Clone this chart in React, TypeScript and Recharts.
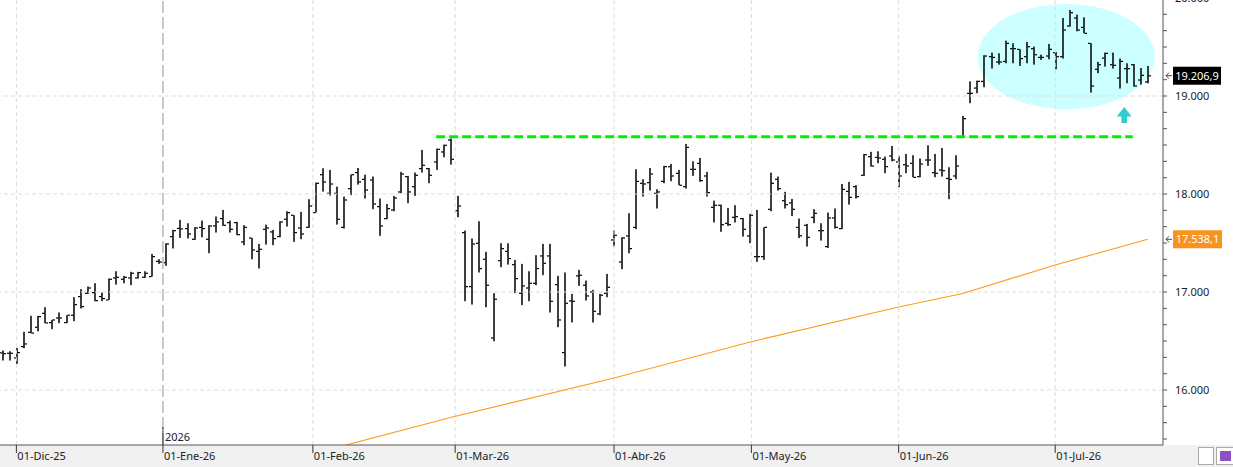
import React from "react";
import {
	ComposedChart,
	Bar,
	Line,
	XAxis,
	YAxis,
	ReferenceLine,
	ReferenceArea,
	ReferenceDot,
} from "recharts";

// Daily OHLC bars (index 0 = 27-Nov-25, last = mid Jul-26)
const opens = [
	16380, 16376, 16328, 16444, 16590, 16641, 16784, 16689, 16736, 16689, 16764, 16954, 16988, 16995, 16954, 16920,
	17144, 17131, 17144, 17144, 17151, 17158, 17314, 17301, 17566, 17650, 17648, 17539, 17660, 17539, 17675, 17750,
	17709, 17709, 17512, 17552, 17416, 17641, 17614, 17566, 17743, 17784, 17654, 17661, 17811, 18198, 18008, 18008,
	17661, 18056, 18219, 18151, 18144, 17872, 17750, 17838, 18022, 18178, 18076, 18260, 18260, 18328, 18430, 18552,
	17831, 17607, 17056, 17498, 17335, 16532, 17321, 17416, 17280, 16988, 17042, 17090, 17369, 17369, 17076, 16383,
	16910, 17165, 17070, 17002, 16777, 16988, 17532, 17308, 17573, 17661, 18110, 18117, 18008, 18130, 18280, 18212,
	18076, 18253, 18314, 18185, 17865, 17886, 17702, 17763, 17750, 17573, 17362, 17362, 17845, 18151, 17933, 17910,
	17660, 17682, 17763, 17627, 17464, 17756, 17648, 18028, 18076, 18192, 18382, 18375, 18355, 18389, 18328, 18300,
	18314, 18178, 18348, 18219, 18246, 18160, 18185, 18586, 19028, 19082, 19150, 19402, 19348, 19354, 19484, 19477,
	19402, 19484, 19395, 19409, 19443, 19402, 19715, 19796, 19701, 19538, 19273, 19388, 19320, 19184, 19280, 19320,
	19164, 19144,
];
const highs = [
	16403, 16396, 16430, 16594, 16757, 16757, 16845, 16716, 16791, 16764, 16947, 17029, 17056, 17090, 16995, 17138,
	17212, 17165, 17206, 17206, 17212, 17389, 17335, 17498, 17634, 17736, 17702, 17661, 17729, 17682, 17770, 17838,
	17729, 17716, 17682, 17552, 17491, 17688, 17634, 17722, 17824, 17784, 17818, 17947, 18117, 18263, 18246, 18076,
	17974, 18198, 18266, 18198, 18178, 17954, 17899, 17981, 18226, 18185, 18219, 18450, 18266, 18464, 18504, 18566,
	17981, 17627, 17546, 17722, 17410, 16988, 17498, 17498, 17328, 17287, 17212, 17376, 17491, 17491, 17165, 17199,
	16981, 17226, 17117, 17022, 16981, 17185, 17627, 17559, 17804, 18253, 18151, 18266, 18049, 18287, 18307, 18246,
	18511, 18334, 18368, 18226, 17933, 17892, 17858, 17886, 17756, 17797, 17838, 17661, 18219, 18178, 18022, 17950,
	17750, 17695, 17845, 17702, 17811, 17852, 18103, 18124, 18090, 18409, 18430, 18436, 18382, 18491, 18389, 18409,
	18396, 18362, 18498, 18409, 18470, 18273, 18396, 18797, 19150, 19157, 19416, 19443, 19436, 19565, 19538, 19477,
	19552, 19504, 19422, 19531, 19450, 19796, 19878, 19830, 19803, 19538, 19348, 19443, 19443, 19382, 19334, 19327,
	19286, 19307,
];
const lows = [
	16301, 16301, 16267, 16427, 16580, 16600, 16682, 16621, 16682, 16682, 16702, 16832, 16981, 16906, 16906, 16920,
	17076, 17090, 17070, 17138, 17144, 17158, 17287, 17267, 17444, 17552, 17546, 17532, 17559, 17396, 17607, 17675,
	17607, 17580, 17478, 17335, 17240, 17484, 17478, 17559, 17668, 17512, 17539, 17654, 17811, 18025, 17985, 17688,
	17648, 17988, 18096, 17954, 17845, 17573, 17743, 17824, 18008, 17906, 17981, 18219, 18110, 18246, 18375, 18300,
	17763, 16906, 16872, 17199, 16845, 16498, 17253, 17280, 16988, 16866, 16906, 17070, 17172, 16791, 16641, 16240,
	16689, 17063, 16913, 16689, 16764, 16947, 17464, 17233, 17396, 17641, 17974, 18035, 17852, 18110, 18130, 18090,
	18056, 18185, 18124, 17974, 17709, 17614, 17675, 17709, 17566, 17498, 17308, 17328, 17824, 18035, 17852, 17775,
	17550, 17464, 17702, 17525, 17450, 17648, 17641, 17892, 17954, 18185, 18280, 18314, 18212, 18334, 18069, 18212,
	18171, 18171, 18287, 18171, 18178, 17947, 18151, 18579, 18926, 19028, 19089, 19280, 19320, 19334, 19334, 19307,
	19334, 19320, 19368, 19375, 19273, 19382, 19708, 19660, 19640, 19035, 19232, 19300, 19280, 19076, 19130, 19096,
	19116, 19130,
];
const closes = [
	16372, 16376, 16383, 16471, 16582, 16750, 16685, 16716, 16736, 16764, 16872, 16852, 17042, 16913, 16934, 17131,
	17151, 17151, 17192, 17199, 17192, 17362, 17307, 17491, 17627, 17645, 17593, 17654, 17648, 17675, 17716, 17682,
	17641, 17586, 17661, 17430, 17437, 17654, 17546, 17716, 17811, 17607, 17593, 17879, 18110, 18124, 18103, 17743,
	17940, 18198, 18124, 18042, 17899, 17675, 17852, 17960, 18205, 18022, 18192, 18294, 18192, 18457, 18498, 18355,
	17879, 17056, 17491, 17240, 17070, 16927, 17444, 17342, 17138, 17063, 17090, 17240, 17294, 16906, 16716, 16886,
	16906, 17172, 16961, 16804, 16968, 17049, 17580, 17552, 17444, 18130, 18103, 18205, 18022, 18280, 18185, 18090,
	18477, 18253, 18137, 18015, 17886, 17688, 17688, 17770, 17641, 17784, 17362, 17661, 18110, 18056, 17892, 17845,
	17575, 17559, 17804, 17627, 17756, 17661, 18049, 17967, 17974, 18402, 18287, 18368, 18280, 18348, 18185, 18287,
	18171, 18307, 18348, 18212, 18239, 18150, 18287, 18770, 19028, 19150, 19409, 19395, 19348, 19538, 19484, 19382,
	19504, 19422, 19395, 19477, 19402, 19674, 19851, 19674, 19640, 19103, 19320, 19436, 19314, 19354, 19280, 19103,
	19212, 19206.9,
];

// Moving average readings (bar index -> value)
const maIndex = [47, 63, 86, 105, 126, 135, 148, 156, 161];
const maValues = [15413, 15720, 16123, 16488, 16847, 16985, 17276, 17437, 17538.1];

// Month ticks (bar index position) and labels
const monthTicks = [2, 22.6, 43.67, 63.67, 86, 105.3, 126, 148];
const monthLabels = ["01-Dic-25", "01-Ene-26", "01-Feb-26", "01-Mar-26", "01-Abr-26", "01-May-26", "01-Jun-26", "01-Jul-26"];
const yearTick = 22.6;

const yMajor = [16000, 17000, 18000, 19000, 20000];
const resistance = 18583;
const lastClose = 19206.9;
const lastMa = 17538.1;

const XMIN = -0.3;
const XMAX = 163.15;
const YMIN = 15439;
const YMAX = 20000;
const FONT = "'Noto Sans', 'Open Sans', sans-serif";

const maByIndex: Record<number, number> = {};
maIndex.forEach((idx, k) => {
	maByIndex[idx] = maValues[k];
});

const data = opens.map((o, i) => ({
	i,
	open: o,
	high: highs[i],
	low: lows[i],
	close: closes[i],
	range: [lows[i], highs[i]],
	ma: maByIndex[i],
}));

// minor ticks every 1000/6
const yTicks: number[] = [];
for (let v = 15500; v <= 20000.01; v += 1000 / 6) yTicks.push(v);

const fmtInt = (v: number) => {
	const r = Math.round(v);
	return `${Math.floor(r / 1000)}.${String(r % 1000).padStart(3, "0")}`;
};
const fmtDec = (v: number) => {
	const [a, b] = v.toFixed(1).split(".");
	return a.replace(/\B(?=(\d{3})+(?!\d))/g, ".") + "," + b;
};

// OHLC bar: vertical high-low with open tick left, close tick right
const OhlcBar = (props: any) => {
	const { x, y, width, height, payload } = props;
	if (!payload) return null;
	const { open, high, low, close } = payload;
	const span = high - low || 1;
	const yOf = (v: number) => y + ((high - v) / span) * height;
	const cx = Math.round(x + width / 2);
	return (
		<g>
			<rect x={cx - 0.75} y={y} width={1.5} height={Math.max(height, 1)} fill="#000" />
			<rect x={cx - 3} y={yOf(open) - 0.5} width={2.5} height={1.2} fill="#000" />
			<rect x={cx + 0.5} y={yOf(close) - 0.5} width={2.5} height={1.2} fill="#000" />
		</g>
	);
};

const YTick = (props: any) => {
	const { x, y, payload } = props;
	const v = payload.value;
	const isMajor = yMajor.some((m) => Math.abs(m - v) < 1);
	if (!isMajor) return null;
	return (
		<text x={x} y={y} dy={4} textAnchor="start" fontSize={11} fill="#222" fontFamily={FONT}>
			{fmtInt(v)}
		</text>
	);
};

const XTick = (props: any) => {
	const { x, y, payload } = props;
	const k = monthTicks.indexOf(payload.value);
	const label = monthLabels[k] ?? "";
	return (
		<g>
			{payload.value === yearTick && (
				<>
					<line x1={x} x2={x} y1={y - 26} y2={y - 8} stroke="#333" strokeWidth={1} />
					<text x={x + 2} y={y - 12} fontSize={11} fill="#222" fontFamily={FONT}>
						2026
					</text>
				</>
			)}
			<text x={x + 1} y={y + 7} fontSize={11} fill="#222" fontFamily={FONT}>
				{label}
			</text>
		</g>
	);
};

// price badge drawn on the right axis
const makeBadge = (text: string, bg: string, w: number) => (p: any) => {
	const { cx, cy } = p;
	return (
		<g>
			<path d={`M${cx + 3} ${cy} L${cx + 9} ${cy} M${cx + 3} ${cy} L${cx + 6} ${cy - 3} M${cx + 3} ${cy} L${cx + 6} ${cy + 3}`} stroke="#444" strokeWidth={1} fill="none" />
			<rect x={cx + 10} y={cy - 9} width={w} height={18} fill={bg} />
			<text x={cx + 10 + w / 2} y={cy + 4} textAnchor="middle" fontSize={11} fill="#fff" fontFamily={FONT}>
				{text}
			</text>
		</g>
	);
};

const EllipseShape = (p: any) => {
	const { x, y, width, height } = p;
	return <ellipse cx={x + width / 2} cy={y + height / 2} rx={width / 2} ry={height / 2} fill="#ccffff" />;
};

const ArrowUp = (p: any) => {
	const { cx, cy } = p;
	return (
		<path
			d={`M${cx} ${cy - 8} L${cx + 7.5} ${cy + 1.5} L${cx + 2.8} ${cy + 1.5} L${cx + 2.8} ${cy + 8} L${cx - 2.8} ${cy + 8} L${cx - 2.8} ${cy + 1.5} L${cx - 7.5} ${cy + 1.5} Z`}
			fill="#33cccc"
		/>
	);
};

export default function App() {
	return (
		<div style={{ position: "absolute", left: 0, top: -2, width: 1233, height: 469, background: "#fff" }}>
			<div style={{ position: "absolute", left: 0, top: 447, width: 1233, height: 22, background: "#f0f0f0" }} />
			<div style={{ position: "absolute", left: 1198, top: 449, width: 14, height: 16, border: "1px solid #aaa", background: "#fff" }} />
			<div style={{ position: "absolute", left: 1216, top: 449, width: 17, height: 16, border: "1px solid #aaa", background: "#fff" }}>
				<div style={{ margin: "3px 3px", width: 11, height: 10, background: "#8e4fc4" }} />
			</div>
			<div style={{ position: "absolute", left: 0, top: 0 }}>
				<ComposedChart width={1233} height={469} data={data} margin={{ top: 0, right: 0, left: 0, bottom: 0 }}>
					<XAxis
						type="number"
						dataKey="i"
						domain={[XMIN, XMAX]}
						allowDataOverflow
						ticks={monthTicks}
						interval={0}
						tick={<XTick />}
						tickSize={8}
						tickMargin={0}
						tickLine={{ stroke: "#333" }}
						axisLine={{ stroke: "#555" }}
						height={22}
					/>
					<YAxis
						orientation="right"
						domain={[YMIN, YMAX]}
						allowDataOverflow
						ticks={yTicks}
						interval={0}
						tick={<YTick />}
						tickSize={4}
						tickMargin={8}
						tickLine={{ stroke: "#555" }}
						axisLine={{ stroke: "#555" }}
						width={70}
					/>
					<ReferenceArea x1={137.1} x2={162} y1={18864} y2={19939} shape={<EllipseShape />} ifOverflow="visible" />
					{yMajor.slice(0, 4).map((v) => (
						<ReferenceLine key={v} y={v} stroke="#dcdcdc" strokeDasharray="4 3" />
					))}
					{monthTicks.map((m) =>
						m === yearTick ? (
							<ReferenceLine key={m} x={m} stroke="#c8c8c8" strokeWidth={2} strokeDasharray="12 4" />
						) : (
							<ReferenceLine key={m} x={m} stroke="#dcdcdc" strokeDasharray="4 3" />
						)
					)}
					<ReferenceLine
						segment={[
							{ x: 61, y: resistance },
							{ x: 158.9, y: resistance },
						]}
						stroke="#00ee00"
						strokeWidth={3}
						strokeDasharray="9 4"
					/>
					<Line
						type="linear"
						dataKey="ma"
						stroke="#ff9a1a"
						strokeWidth={1.1}
						dot={false}
						connectNulls
						isAnimationActive={false}
					/>
					<Bar dataKey="range" barSize={6} shape={<OhlcBar />} isAnimationActive={false} />
					<ReferenceDot x={157.7} y={18806} r={8} shape={<ArrowUp />} ifOverflow="visible" />
					<ReferenceDot x={XMAX} y={lastClose} r={1} shape={makeBadge(fmtDec(lastClose), "#000", 48)} ifOverflow="visible" />
					<ReferenceDot x={XMAX} y={lastMa} r={1} shape={makeBadge(fmtDec(lastMa), "#f7931e", 49)} ifOverflow="visible" />
				</ComposedChart>
			</div>
		</div>
	);
}
